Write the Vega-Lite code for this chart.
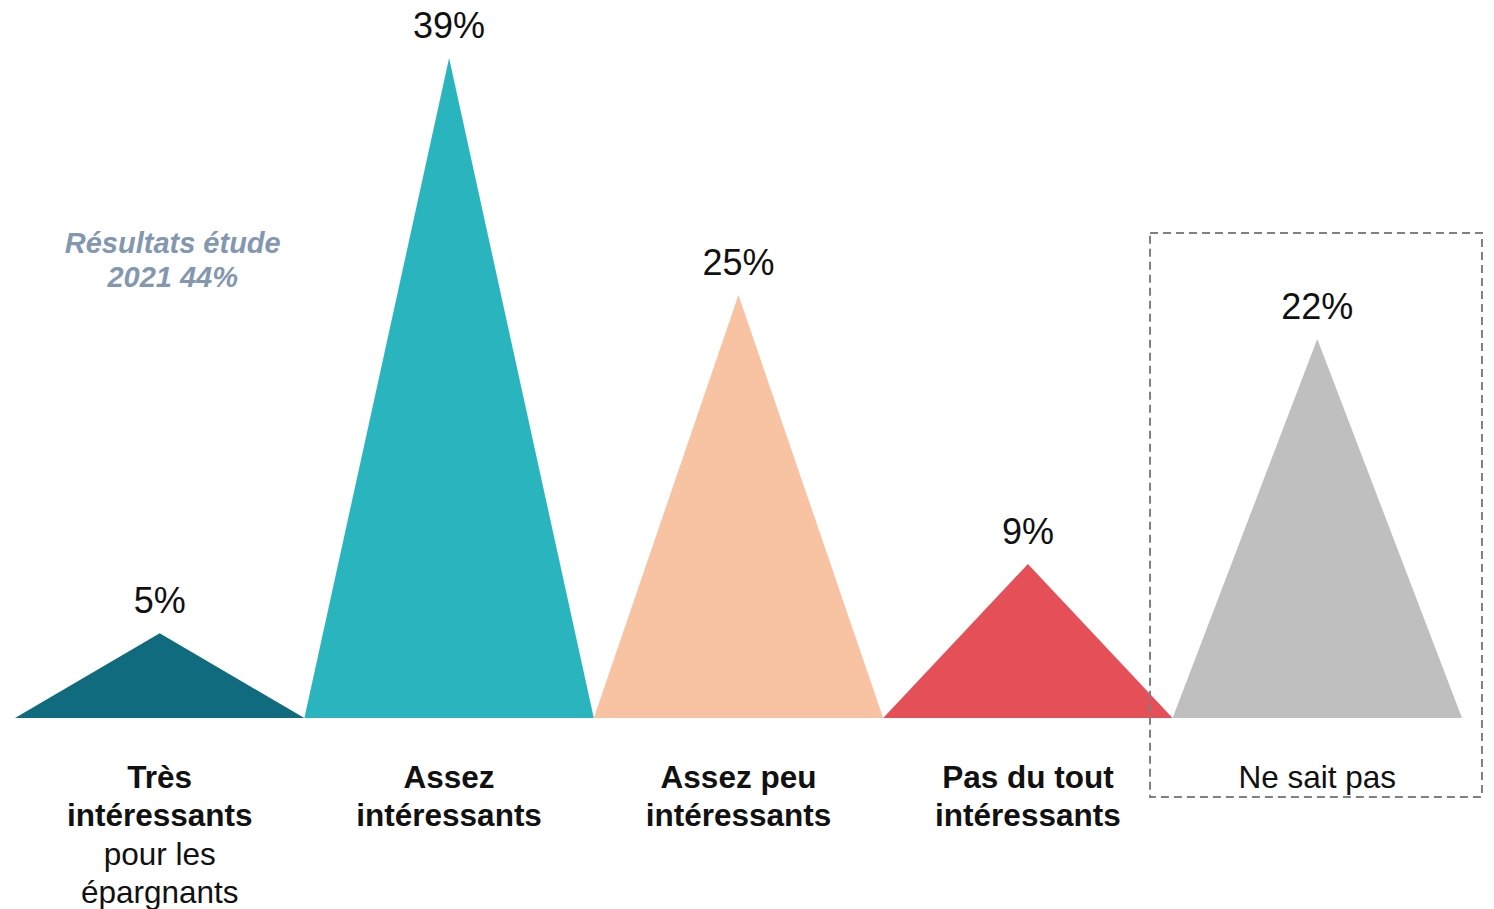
{
  "$schema": "https://vega.github.io/schema/vega-lite/v6.json",
  "width": 1447,
  "height": 909,
  "autosize": "none",
  "padding": {"left": 15, "top": 0, "right": 32, "bottom": 0},
  "background": "white",
  "config": {"view": {"stroke": null}, "font": "Liberation Sans"},
  "datasets": {
    "peaks": [
      {"cat": "Très intéressants", "k": 0, "pct": 0},
      {"cat": "Très intéressants", "k": 1, "pct": 5},
      {"cat": "Très intéressants", "k": 2, "pct": 0},
      {"cat": "Assez intéressants", "k": 2, "pct": 0},
      {"cat": "Assez intéressants", "k": 3, "pct": 39},
      {"cat": "Assez intéressants", "k": 4, "pct": 0},
      {"cat": "Assez peu intéressants", "k": 4, "pct": 0},
      {"cat": "Assez peu intéressants", "k": 5, "pct": 25},
      {"cat": "Assez peu intéressants", "k": 6, "pct": 0},
      {"cat": "Pas du tout intéressants", "k": 6, "pct": 0},
      {"cat": "Pas du tout intéressants", "k": 7, "pct": 9.1},
      {"cat": "Pas du tout intéressants", "k": 8, "pct": 0},
      {"cat": "Ne sait pas", "k": 8, "pct": 0},
      {"cat": "Ne sait pas", "k": 9, "pct": 22.4},
      {"cat": "Ne sait pas", "k": 10, "pct": 0}
    ],
    "cats": [
      {"cat": "Très intéressants", "k": 1, "pct": 5, "label": "5%", "bold": ["Très", "intéressants"], "regular": ["pour les", "épargnants"]},
      {"cat": "Assez intéressants", "k": 3, "pct": 39, "label": "39%", "bold": ["Assez", "intéressants"], "regular": [""]},
      {"cat": "Assez peu intéressants", "k": 5, "pct": 25, "label": "25%", "bold": ["Assez peu", "intéressants"], "regular": [""]},
      {"cat": "Pas du tout intéressants", "k": 7, "pct": 9.1, "label": "9%", "bold": ["Pas du tout", "intéressants"], "regular": [""]},
      {"cat": "Ne sait pas", "k": 9, "pct": 22.4, "label": "22%", "bold": [""], "regular": ["Ne sait pas"]}
    ]
  },
  "layer": [
    {
      "data": {"name": "peaks"},
      "mark": {"type": "area", "interpolate": "linear"},
      "encoding": {
        "x": {"field": "k", "type": "quantitative", "scale": {"domain": [0, 10], "nice": false, "zero": false}, "axis": null},
        "y": {"field": "pct", "type": "quantitative", "stack": null, "scale": {"domain": [-11.29, 42.43], "nice": false, "zero": false}, "axis": null},
        "color": {
          "field": "cat", "type": "nominal", "legend": null,
          "scale": {
            "domain": ["Très intéressants", "Assez intéressants", "Assez peu intéressants", "Pas du tout intéressants", "Ne sait pas"],
            "range": ["#0F6B7D", "#2AB5BE", "#F7C3A3", "#E55058", "#BFBFBF"]
          }
        }
      }
    },
    {
      "data": {"name": "cats"},
      "mark": {"type": "text", "fontSize": 36, "baseline": "alphabetic", "align": "center", "dy": -20, "color": "#111111"},
      "encoding": {
        "x": {"field": "k", "type": "quantitative"},
        "y": {"field": "pct", "type": "quantitative"},
        "text": {"field": "label"}
      }
    },
    {
      "data": {"name": "cats"},
      "mark": {"type": "text", "fontSize": 31.5, "fontWeight": "bold", "baseline": "alphabetic", "align": "center", "dy": 70, "lineHeight": 38.5, "color": "#111111"},
      "encoding": {
        "x": {"field": "k", "type": "quantitative"},
        "y": {"datum": 0},
        "text": {"field": "bold"}
      }
    },
    {
      "data": {"name": "cats"},
      "transform": [{"filter": "datum.cat === 'Très intéressants'"}],
      "mark": {"type": "text", "fontSize": 31.5, "baseline": "alphabetic", "align": "center", "dy": 147, "lineHeight": 38.5, "color": "#111111"},
      "encoding": {
        "x": {"field": "k", "type": "quantitative"},
        "y": {"datum": 0},
        "text": {"field": "regular"}
      }
    },
    {
      "data": {"name": "cats"},
      "transform": [{"filter": "datum.cat === 'Ne sait pas'"}],
      "mark": {"type": "text", "fontSize": 31.5, "baseline": "alphabetic", "align": "center", "dy": 70, "lineHeight": 38.5, "color": "#111111"},
      "encoding": {
        "x": {"field": "k", "type": "quantitative"},
        "y": {"datum": 0},
        "text": {"field": "regular"}
      }
    },
    {
      "data": {"values": [{"note": ["Résultats étude", "2021 44%"]}]},
      "mark": {"type": "text", "fontSize": 29, "fontWeight": "bold", "fontStyle": "italic", "baseline": "middle", "align": "center", "lineHeight": 34, "color": "#8497B0"},
      "encoding": {
        "x": {"datum": 1.09},
        "y": {"datum": 28.0},
        "text": {"field": "note"}
      }
    },
    {
      "data": {"values": [{"box": "Ne sait pas"}]},
      "mark": {"type": "rect", "fill": null, "fillOpacity": 0, "stroke": "#808080", "strokeWidth": 2, "strokeDash": [8, 5]},
      "encoding": {
        "x": {"datum": 7.844},
        "x2": {"datum": 10.138},
        "y": {"datum": 28.66},
        "y2": {"datum": -4.67}
      }
    }
  ]
}
